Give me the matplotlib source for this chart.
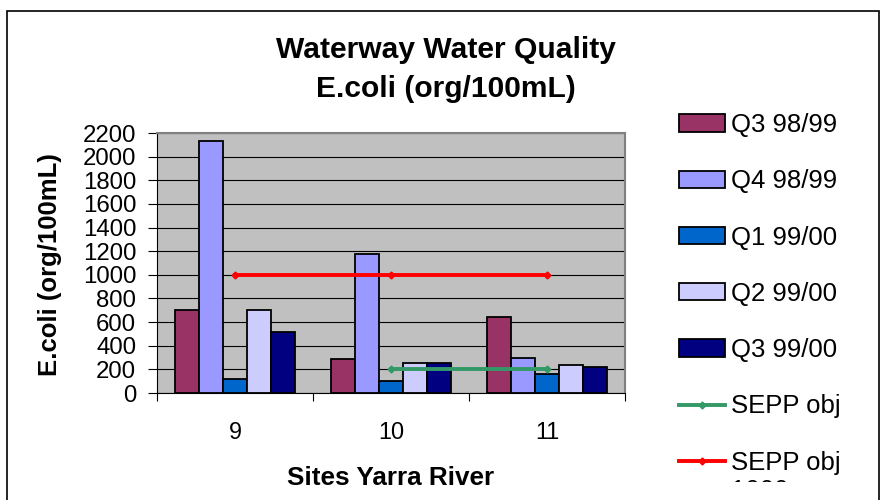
import numpy as np
import matplotlib
matplotlib.use('Agg')
import matplotlib.pyplot as plt
from matplotlib.patches import Rectangle
from matplotlib.transforms import Bbox, IdentityTransform

sites = ['9', '10', '11']
series = ['Q3 98/99', 'Q4 98/99', 'Q1 99/00', 'Q2 99/00', 'Q3 99/00']
q3_9899 = [700, 290, 645]
q4_9899 = [2130, 1180, 300]
q1_9900 = [120, 100, 165]
q2_9900 = [700, 250, 235]
q3_9900 = [520, 250, 220]
sepp_200 = [np.nan, 200, 200]
sepp_1000 = [1000, 1000, 1000]

bar_colors = ['#993366', '#9999FF', '#0066CC', '#CCCCFF', '#000080']

plt.rcParams['font.family'] = ['Liberation Sans', 'DejaVu Sans']

fig = plt.figure(figsize=(8.81, 5), dpi=100)
W, H = 881, 500
ax = fig.add_axes([157 / W, 1 - 393 / H, 468 / W, 260 / H])
ax.set_facecolor('#C0C0C0')

x = np.arange(len(sites))
bw = 0.1533
handles = []
for k, (vals, col, lab) in enumerate(zip([q3_9899, q4_9899, q1_9900, q2_9900, q3_9900],
                                          bar_colors, series)):
    b = ax.bar(x + (k - 2) * bw, vals, width=bw, color=col, edgecolor='black',
               linewidth=1.3, label=lab, zorder=2)
    handles.append(b)

l1, = ax.plot(x, sepp_200, color='#339966', lw=2.8, marker='D', ms=3.5, label='SEPP obj', zorder=3)
l2, = ax.plot(x, sepp_1000, color='#FF0000', lw=2.8, marker='D', ms=3.5, label='SEPP obj', zorder=3)
handles += [l1, l2]

ax.set_xlim(-0.5, 2.5)
ax.set_ylim(0, 2200)
ax.set_yticks(np.arange(0, 2201, 200))
ax.yaxis.grid(True, color='black', lw=0.8)
ax.set_axisbelow(True)
ax.tick_params(axis='y', direction='out', length=6.5, width=0.8, pad=8.4, labelsize=17.3)

ax.set_xticks([-0.5, 0.5, 1.5, 2.5])
ax.set_xticklabels([])
ax.set_xticks(x, minor=True)
ax.set_xticklabels(sites, minor=True)
ax.tick_params(axis='x', which='major', direction='out', length=6, width=0.8)
ax.tick_params(axis='x', which='minor', length=0, pad=20.5, labelsize=16.8)

for s in ['top', 'right']:
    ax.spines[s].set_color('#808080')
    ax.spines[s].set_linewidth(1.5)
for s in ['left', 'bottom']:
    ax.spines[s].set_color('black')
    ax.spines[s].set_linewidth(0.8)

ax.set_ylabel('E.coli (org/100mL)', fontsize=18.5, fontweight='bold')
ax.yaxis.label.set_va('center')
ax.yaxis.set_label_coords(-0.2286, 0.494)
ax.set_xlabel('Sites Yarra River', fontsize=18.8, fontweight='bold')
ax.xaxis.label.set_va('center')
ax.xaxis.set_label_coords(0.5, -0.327)

fig.text(446 / W, 1 - 36 / H, 'Waterway Water Quality\nE.coli (org/100mL)',
         ha='center', va='top', fontsize=21.6, fontweight='bold', linespacing=1.5)

# chart border
fig.patches.append(Rectangle((7 / W, -0.05), 872 / W, 1.05 - 11 / H, transform=fig.transFigure,
                             fill=False, edgecolor='black', lw=1.2, clip_on=False))

leg = fig.legend(handles=handles, labels=series + ['SEPP obj', 'SEPP obj'],
                 loc='upper left', bbox_to_anchor=(679 / W, 1 - 113 / H), frameon=False,
                 fontsize=18.5, borderpad=0, borderaxespad=0, handlelength=1.8,
                 handleheight=0.66, handletextpad=0.23, labelspacing=1.256)

# second line of the last legend label, cut off like the original
fig.canvas.draw()
bb = leg.get_texts()[-1].get_window_extent(fig.canvas.get_renderer())
extra = fig.text(bb.x0, bb.y0 - 4.5, '1000', fontsize=18.5, ha='left', va='top',
                 transform=IdentityTransform())
extra.set_clip_box(Bbox([[0, H - 482], [W, H]]))

fig.savefig('out.png', dpi=100)
